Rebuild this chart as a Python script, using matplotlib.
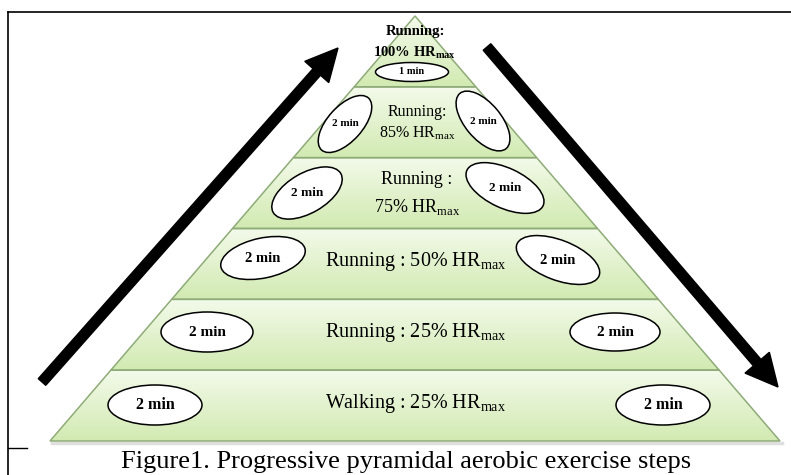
import numpy as np
import matplotlib.pyplot as plt
from matplotlib.patches import Polygon, Ellipse, FancyArrow
from matplotlib.colors import LinearSegmentedColormap

plt.rcParams['font.family'] = ['Liberation Serif', 'DejaVu Serif']
plt.rcParams['mathtext.fontset'] = 'custom'
plt.rcParams['mathtext.rm'] = 'Liberation Serif'
plt.rcParams['mathtext.bf'] = 'Liberation Serif:bold'

# data: pyramid steps, top to bottom
activity = ["Running", "Running", "Running", "Running", "Running", "Walking"]
intensity = [100, 85, 75, 50, 25, 25]          # % HRmax
minutes_left = [1, 2, 2, 2, 2, 2]
minutes_right = [None, 2, 2, 2, 2, 2]
caption = "Figure1. Progressive pyramidal aerobic exercise steps"

# layout (pixel coords, y down)
apex_x, apex_y, base_y, half_base = 415, 16, 441, 365
n = len(activity)
tier_h = (base_y - apex_y) / n
# ellipse placement per tier: (cx, cy, w, h, angle on screen)
ell_left = [(412, 72, 73, 19, 0), (345, 124, 70, 35, 48), (307, 193, 78, 40, 30),
            (263, 258, 86, 40, 12), (207, 332, 92, 40, 0), (155, 405, 94, 40, 0)]
ell_right = [None, (483, 121, 72, 36, -50), (505, 188, 84, 40, -25),
             (558, 260, 88, 40, -21), (615, 332, 90, 38, 0), (663, 405, 94, 40, 0)]
min_fs = [7.5, 8, 9.5, 10.5, 11, 11.5]
lab_fs = [10.5, 11.5, 13, 14.5, 14.5, 14.5]

fig = plt.figure(figsize=(7.91, 4.75), dpi=100)
ax = fig.add_axes([0, 0, 1, 1])
ax.set_xlim(0, 791)
ax.set_ylim(475, 0)
ax.axis('off')

def hw(y):
    return half_base * (y - apex_y) / (base_y - apex_y)

cmap = LinearSegmentedColormap.from_list('g', ['#f3faea', '#d2eab2'])
grad = np.linspace(0, 1, 64).reshape(-1, 1)

# soft shadow under pyramid
ax.plot([apex_x - half_base + 2, apex_x + half_base + 2], [base_y + 2, base_y + 2],
        color='grey', lw=2.5, alpha=0.25, zorder=1)

for i in range(n):
    y0 = apex_y + i * tier_h
    y1 = y0 + tier_h
    pts = [(apex_x - hw(y0), y0), (apex_x + hw(y0), y0),
           (apex_x + hw(y1), y1), (apex_x - hw(y1), y1)]
    poly = Polygon(pts, closed=True, facecolor='none', edgecolor='#8eab78', lw=1.1, zorder=3)
    ax.add_patch(poly)
    # light at the top of each step, greener at its bottom
    im = ax.imshow(grad, cmap=cmap, aspect='auto', zorder=2, origin='upper',
                   extent=[apex_x - hw(y1), apex_x + hw(y1), y1, y0])
    im.set_clip_path(poly)

    act = activity[i]
    pct = intensity[i]
    if i == 0:
        ax.text(apex_x, 32, act + ":", ha='center', va='center', fontsize=lab_fs[i],
                fontweight='bold', zorder=5)
        ax.text(apex_x, 53, "%d%% HR$_{\\mathbf{max}}$" % pct, ha='center', va='center',
                fontsize=lab_fs[i], fontweight='bold', zorder=5)
    elif i in (1, 2):
        yc = (y0 + y1) / 2
        d = 10.5 if i == 1 else 13.5
        sep = ":" if i == 1 else " :"
        ax.text(apex_x + 2, yc - d, act + sep, ha='center', va='center',
                fontsize=lab_fs[i], zorder=5)
        ax.text(apex_x + 2, yc + d, "%d%% HR$_{\\mathrm{max}}$" % pct, ha='center', va='center',
                fontsize=lab_fs[i], zorder=5)
    else:
        yc = (y0 + y1) / 2 - 2
        ax.text(apex_x + 1, yc, "%s : %d%% HR$_{\\mathrm{max}}$" % (act, pct), ha='center',
                va='center', fontsize=lab_fs[i], zorder=5)

    for ell, mins in ((ell_left[i], minutes_left[i]), (ell_right[i], minutes_right[i])):
        if ell is None or mins is None:
            continue
        cx, cy, w, h, ang = ell
        ax.add_patch(Ellipse((cx, cy), w, h, angle=-ang, facecolor='white',
                             edgecolor='black', lw=1.1, zorder=4))
        ax.text(cx, cy, "%d min" % mins, ha='center', va='center', fontsize=min_fs[i],
                fontweight='bold', zorder=5)

# arrows
ax.add_patch(FancyArrow(42, 382, 296, -334, width=10, head_width=32, head_length=32,
                        length_includes_head=True, color='black', zorder=6))
ax.add_patch(FancyArrow(487, 47, 291, 340, width=10, head_width=32, head_length=32,
                        length_includes_head=True, color='black', zorder=6))

# frame lines
ax.plot([8, 791], [11.5, 11.5], color='black', lw=1.2, zorder=7)
ax.plot([8, 8], [11.5, 475], color='black', lw=1.2, zorder=7)
ax.plot([8, 27], [448, 448], color='black', lw=1.0, zorder=7)

ax.text(406, 468, caption, ha='center', va='baseline', fontsize=19, zorder=7)

fig.savefig("out.png", dpi=100)
